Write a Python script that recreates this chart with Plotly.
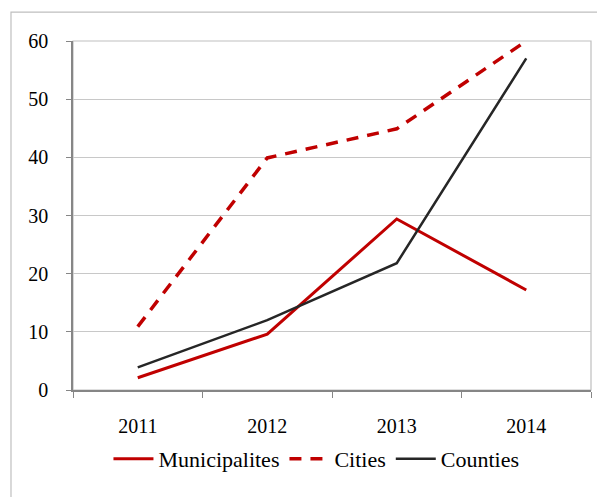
import plotly.graph_objects as go

years = ["2011", "2012", "2013", "2014"]
municipalites = [2.1, 9.6, 29.4, 17.2]
cities = [10.9, 39.9, 44.9, 60.0]
counties = [3.9, 12.0, 21.8, 57.0]
y_ticks = [0, 10, 20, 30, 40, 50, 60]

FONT = "Liberation Serif"

fig = go.Figure()
fig.add_trace(go.Scatter(x=years, y=municipalites, mode="lines", name="Municipalites",
                         line=dict(color="#C00000", width=3)))
fig.add_trace(go.Scatter(x=years, y=cities, mode="lines", name="Cities",
                         line=dict(color="#C00000", width=3.5, dash="12px,9px")))
fig.add_trace(go.Scatter(x=years, y=counties, mode="lines", name="Counties",
                         line=dict(color="#262626", width=2.5)))

# outer chart border
fig.add_shape(type="rect", xref="paper", yref="paper", x0=-0.1197, x1=1.2, y0=-0.5, y1=1.083,
              line=dict(color="#BFBFBF", width=1.2), layer="above")
# plot area border
fig.add_shape(type="rect", xref="paper", yref="paper", x0=0, x1=1, y0=0, y1=1,
              line=dict(color="#BFBFBF", width=1.2), layer="below")

fig.update_layout(
    width=597, height=489,
    margin=dict(l=65, r=14, t=33, b=107, autoexpand=False),
    paper_bgcolor="white", plot_bgcolor="white",
    font=dict(family=FONT, color="black", size=20),
    showlegend=True,
    legend=dict(orientation="h", x=0.47, xanchor="center", xref="paper",
                yref="container", y=0.078, yanchor="middle",
                font=dict(size=22, family=FONT), itemwidth=40, tracegroupgap=0),
    xaxis=dict(type="category", tickson="boundaries", ticks="outside", ticklen=6,
               tickcolor="#868686", showline=True, linecolor="#868686", linewidth=1.5,
               showgrid=False, ticklabelstandoff=17, tickfont=dict(size=20),
               range=[-0.5, 3.5], automargin=False),
    yaxis=dict(range=[0, 60], tickvals=y_ticks, ticks="outside", ticklen=5,
               tickcolor="#868686", showline=True, linecolor="#868686", linewidth=1.5,
               showgrid=True, gridcolor="#C8C8C8", gridwidth=1, zeroline=False,
               ticklabelstandoff=14, tickfont=dict(size=20), automargin=False),
)

fig.write_html("out.html")
